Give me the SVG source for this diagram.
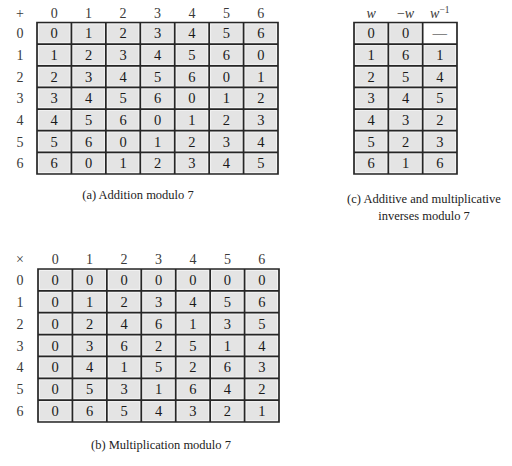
<svg xmlns="http://www.w3.org/2000/svg" width="512" height="466" viewBox="0 0 512 466">
<style>
.t{font-family:"Liberation Serif","Times New Roman",serif;font-size:14.5px;text-anchor:middle;fill:#1a1a1a}
.h{font-family:"Liberation Serif","Times New Roman",serif;font-size:14px;text-anchor:middle;fill:#3a3a3a}
.cap{font-family:"Liberation Serif","Times New Roman",serif;font-size:12.5px;text-anchor:middle;fill:#222}
.grid{fill:none;stroke:#262626;stroke-width:1.7}
</style>
<defs>
<pattern id="pa" patternUnits="userSpaceOnUse" x="37" y="22.5" width="34.43" height="21.64">
<rect width="34.43" height="21.64" fill="#e4e4e4"/>
<rect x="1.6" y="1.6" width="31.23" height="18.44" fill="none" stroke="#f6f6f6" stroke-width="0.8"/>
</pattern>
<pattern id="pb" patternUnits="userSpaceOnUse" x="38" y="269" width="34.43" height="21.857">
<rect width="34.43" height="21.857" fill="#e4e4e4"/>
<rect x="1.6" y="1.6" width="31.23" height="18.66" fill="none" stroke="#f6f6f6" stroke-width="0.8"/>
</pattern>
<pattern id="pc" patternUnits="userSpaceOnUse" x="354" y="22.5" width="34.33" height="21.64">
<rect width="34.33" height="21.64" fill="#e4e4e4"/>
<rect x="1.6" y="1.6" width="31.13" height="18.44" fill="none" stroke="#f6f6f6" stroke-width="0.8"/>
</pattern>
</defs>
<rect width="512" height="466" fill="#fff"/>

<!-- (a) Addition table -->
<g id="table-a">
<rect x="37" y="22.5" width="241" height="151.5" fill="url(#pa)"/>
<path class="grid" d="M37 22.5H278V174H37Z M71.43 22.5V174 M105.86 22.5V174 M140.29 22.5V174 M174.71 22.5V174 M209.14 22.5V174 M243.57 22.5V174 M37 44.14H278 M37 65.79H278 M37 87.43H278 M37 109.07H278 M37 130.71H278 M37 152.36H278"/>
<text class="h" x="20" y="18">+</text>
<text class="h" x="54.2" y="18">0</text><text class="h" x="88.6" y="18">1</text><text class="h" x="123.1" y="18">2</text><text class="h" x="157.5" y="18">3</text><text class="h" x="191.9" y="18">4</text><text class="h" x="226.4" y="18">5</text><text class="h" x="260.8" y="18">6</text>
<text class="h" x="20" y="38.3">0</text><text class="h" x="20" y="60">1</text><text class="h" x="20" y="81.6">2</text><text class="h" x="20" y="103.2">3</text><text class="h" x="20" y="124.9">4</text><text class="h" x="20" y="146.5">5</text><text class="h" x="20" y="168.2">6</text>
<text class="t" x="54.2" y="38.3">0</text><text class="t" x="88.6" y="38.3">1</text><text class="t" x="123.1" y="38.3">2</text><text class="t" x="157.5" y="38.3">3</text><text class="t" x="191.9" y="38.3">4</text><text class="t" x="226.4" y="38.3">5</text><text class="t" x="260.8" y="38.3">6</text>
<text class="t" x="54.2" y="60">1</text><text class="t" x="88.6" y="60">2</text><text class="t" x="123.1" y="60">3</text><text class="t" x="157.5" y="60">4</text><text class="t" x="191.9" y="60">5</text><text class="t" x="226.4" y="60">6</text><text class="t" x="260.8" y="60">0</text>
<text class="t" x="54.2" y="81.6">2</text><text class="t" x="88.6" y="81.6">3</text><text class="t" x="123.1" y="81.6">4</text><text class="t" x="157.5" y="81.6">5</text><text class="t" x="191.9" y="81.6">6</text><text class="t" x="226.4" y="81.6">0</text><text class="t" x="260.8" y="81.6">1</text>
<text class="t" x="54.2" y="103.2">3</text><text class="t" x="88.6" y="103.2">4</text><text class="t" x="123.1" y="103.2">5</text><text class="t" x="157.5" y="103.2">6</text><text class="t" x="191.9" y="103.2">0</text><text class="t" x="226.4" y="103.2">1</text><text class="t" x="260.8" y="103.2">2</text>
<text class="t" x="54.2" y="124.9">4</text><text class="t" x="88.6" y="124.9">5</text><text class="t" x="123.1" y="124.9">6</text><text class="t" x="157.5" y="124.9">0</text><text class="t" x="191.9" y="124.9">1</text><text class="t" x="226.4" y="124.9">2</text><text class="t" x="260.8" y="124.9">3</text>
<text class="t" x="54.2" y="146.5">5</text><text class="t" x="88.6" y="146.5">6</text><text class="t" x="123.1" y="146.5">0</text><text class="t" x="157.5" y="146.5">1</text><text class="t" x="191.9" y="146.5">2</text><text class="t" x="226.4" y="146.5">3</text><text class="t" x="260.8" y="146.5">4</text>
<text class="t" x="54.2" y="168.2">6</text><text class="t" x="88.6" y="168.2">0</text><text class="t" x="123.1" y="168.2">1</text><text class="t" x="157.5" y="168.2">2</text><text class="t" x="191.9" y="168.2">3</text><text class="t" x="226.4" y="168.2">4</text><text class="t" x="260.8" y="168.2">5</text>
<text class="cap" x="138" y="199">(a) Addition modulo 7</text>
</g>

<!-- (c) Inverses table -->
<g id="table-c">
<rect x="354" y="22.5" width="103" height="151.5" fill="url(#pc)"/>
<rect x="422.67" y="22.5" width="34.33" height="21.64" fill="#fff"/>
<path class="grid" d="M354 22.5H457V174H354Z M388.33 22.5V174 M422.67 22.5V174 M354 44.14H457 M354 65.79H457 M354 87.43H457 M354 109.07H457 M354 130.71H457 M354 152.36H457"/>
<text class="h" x="371.2" y="17.5" font-style="italic">w</text>
<text class="h" x="405.5" y="17.5">−<tspan font-style="italic">w</tspan></text>
<text class="h" x="439.8" y="17.5"><tspan font-style="italic">w</tspan><tspan dy="-5" font-size="9.5">−1</tspan></text>
<text class="t" x="371.2" y="38.3">0</text><text class="t" x="405.5" y="38.3">0</text><text class="t" x="439.8" y="38.3">—</text>
<text class="t" x="371.2" y="60">1</text><text class="t" x="405.5" y="60">6</text><text class="t" x="439.8" y="60">1</text>
<text class="t" x="371.2" y="81.6">2</text><text class="t" x="405.5" y="81.6">5</text><text class="t" x="439.8" y="81.6">4</text>
<text class="t" x="371.2" y="103.2">3</text><text class="t" x="405.5" y="103.2">4</text><text class="t" x="439.8" y="103.2">5</text>
<text class="t" x="371.2" y="124.9">4</text><text class="t" x="405.5" y="124.9">3</text><text class="t" x="439.8" y="124.9">2</text>
<text class="t" x="371.2" y="146.5">5</text><text class="t" x="405.5" y="146.5">2</text><text class="t" x="439.8" y="146.5">3</text>
<text class="t" x="371.2" y="168.2">6</text><text class="t" x="405.5" y="168.2">1</text><text class="t" x="439.8" y="168.2">6</text>
<text class="cap" x="424" y="203">(c) Additive and multiplicative</text>
<text class="cap" x="424" y="220">inverses modulo 7</text>
</g>

<!-- (b) Multiplication table -->
<g id="table-b">
<rect x="38" y="269" width="241" height="153" fill="url(#pb)"/>
<path class="grid" d="M38 269H279V422H38Z M72.43 269V422 M106.86 269V422 M141.29 269V422 M175.71 269V422 M210.14 269V422 M244.57 269V422 M38 290.86H279 M38 312.71H279 M38 334.57H279 M38 356.43H279 M38 378.29H279 M38 400.14H279"/>
<text class="h" x="20" y="264">×</text>
<text class="h" x="55.2" y="264">0</text><text class="h" x="89.6" y="264">1</text><text class="h" x="124.1" y="264">2</text><text class="h" x="158.5" y="264">3</text><text class="h" x="192.9" y="264">4</text><text class="h" x="227.4" y="264">5</text><text class="h" x="261.8" y="264">6</text>
<text class="h" x="20" y="284.9">0</text><text class="h" x="20" y="306.8">1</text><text class="h" x="20" y="328.6">2</text><text class="h" x="20" y="350.5">3</text><text class="h" x="20" y="372.4">4</text><text class="h" x="20" y="394.3">5</text><text class="h" x="20" y="416.1">6</text>
<text class="t" x="55.2" y="284.9">0</text><text class="t" x="89.6" y="284.9">0</text><text class="t" x="124.1" y="284.9">0</text><text class="t" x="158.5" y="284.9">0</text><text class="t" x="192.9" y="284.9">0</text><text class="t" x="227.4" y="284.9">0</text><text class="t" x="261.8" y="284.9">0</text>
<text class="t" x="55.2" y="306.8">0</text><text class="t" x="89.6" y="306.8">1</text><text class="t" x="124.1" y="306.8">2</text><text class="t" x="158.5" y="306.8">3</text><text class="t" x="192.9" y="306.8">4</text><text class="t" x="227.4" y="306.8">5</text><text class="t" x="261.8" y="306.8">6</text>
<text class="t" x="55.2" y="328.6">0</text><text class="t" x="89.6" y="328.6">2</text><text class="t" x="124.1" y="328.6">4</text><text class="t" x="158.5" y="328.6">6</text><text class="t" x="192.9" y="328.6">1</text><text class="t" x="227.4" y="328.6">3</text><text class="t" x="261.8" y="328.6">5</text>
<text class="t" x="55.2" y="350.5">0</text><text class="t" x="89.6" y="350.5">3</text><text class="t" x="124.1" y="350.5">6</text><text class="t" x="158.5" y="350.5">2</text><text class="t" x="192.9" y="350.5">5</text><text class="t" x="227.4" y="350.5">1</text><text class="t" x="261.8" y="350.5">4</text>
<text class="t" x="55.2" y="372.4">0</text><text class="t" x="89.6" y="372.4">4</text><text class="t" x="124.1" y="372.4">1</text><text class="t" x="158.5" y="372.4">5</text><text class="t" x="192.9" y="372.4">2</text><text class="t" x="227.4" y="372.4">6</text><text class="t" x="261.8" y="372.4">3</text>
<text class="t" x="55.2" y="394.3">0</text><text class="t" x="89.6" y="394.3">5</text><text class="t" x="124.1" y="394.3">3</text><text class="t" x="158.5" y="394.3">1</text><text class="t" x="192.9" y="394.3">6</text><text class="t" x="227.4" y="394.3">4</text><text class="t" x="261.8" y="394.3">2</text>
<text class="t" x="55.2" y="416.1">0</text><text class="t" x="89.6" y="416.1">6</text><text class="t" x="124.1" y="416.1">5</text><text class="t" x="158.5" y="416.1">4</text><text class="t" x="192.9" y="416.1">3</text><text class="t" x="227.4" y="416.1">2</text><text class="t" x="261.8" y="416.1">1</text>
<text class="cap" x="161" y="449">(b) Multiplication modulo 7</text>
</g>
</svg>
